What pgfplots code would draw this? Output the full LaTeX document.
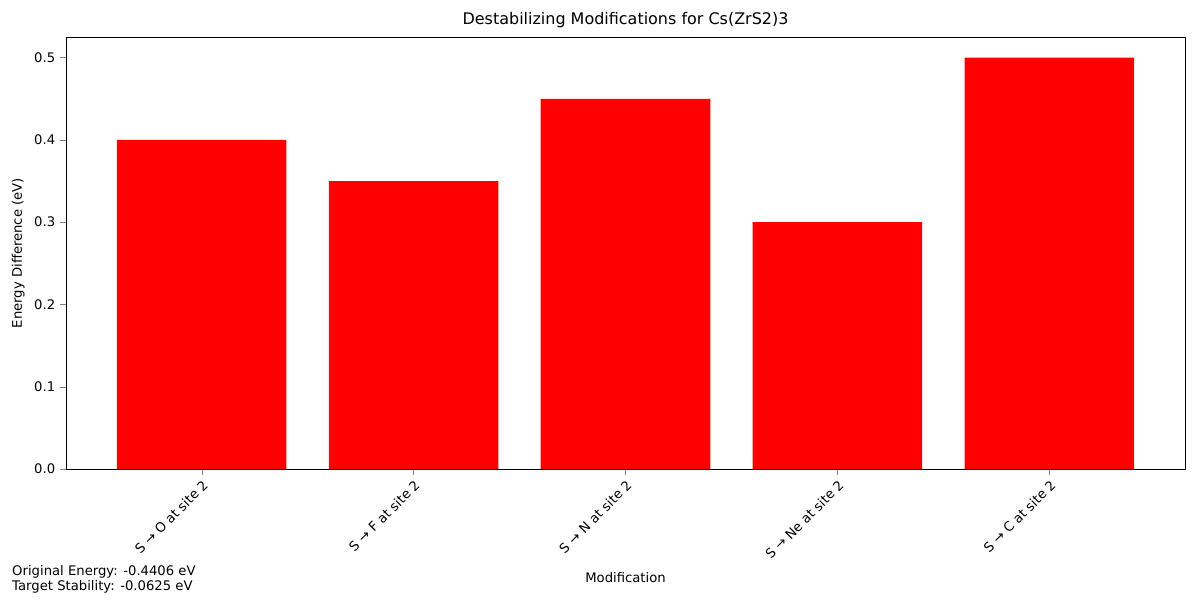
\documentclass[border=0pt]{standalone}
\usepackage{pgfplots}
\pgfplotsset{compat=1.18}
\usepackage{fontspec}
\setmainfont{DejaVu Sans}
\begin{document}
\begin{tikzpicture}
\useasboundingbox (-47.52pt,-94.32pt) rectangle (816.48pt,337.68pt);
\begin{axis}[
  at={(0,0)}, anchor=south west,
  scale only axis, width=805.7pt, height=311pt,
  xmin=-0.64, xmax=4.64, ymin=0, ymax=0.525,
  ybar, bar width=0.8, bar shift=0pt,
  xtick=data,
  xticklabels={S → O at site 2, S → F at site 2, S → N at site 2, S → Ne at site 2, S → C at site 2},
  xticklabel style={rotate=45, anchor=north east, font=\fontsize{9.5}{11}\selectfont, inner sep=2pt},
  yticklabel style={font=\fontsize{9.5}{11}\selectfont, /pgf/number format/fixed, /pgf/number format/fixed zerofill, /pgf/number format/precision=1},
  /pgf/number format/assume math mode=true,
  ytick={0,0.1,0.2,0.3,0.4,0.5},
  tick align=outside, tick pos=left,
  xlabel={Modification}, ylabel={Energy Difference (eV)},
  label style={font=\fontsize{9.5}{11}\selectfont},
  xlabel style={at={(rel axis cs:0.5,0)}, anchor=center, yshift=-78pt},
  title={Destabilizing Modifications for Cs(ZrS2)3},
  title style={font=\fontsize{11.5}{13}\selectfont, yshift=-3pt},
]
\addplot[fill=red, draw=none] coordinates {(0,0.40) (1,0.35) (2,0.45) (3,0.30) (4,0.50)};
\end{axis}
\node[anchor=south west, align=left, font=\fontsize{9.5}{11}\selectfont, inner sep=0pt] at (-38.9pt,-90pt) {Original Energy: -0.4406 eV\\Target Stability: -0.0625 eV};
\end{tikzpicture}
\end{document}
